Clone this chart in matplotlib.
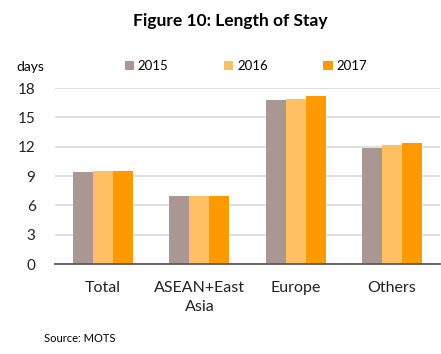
import matplotlib
matplotlib.use("Agg")
import matplotlib.pyplot as plt
import numpy as np

categories = ["Total", "ASEAN+East\nAsia", "Europe", "Others"]
years = ["2015", "2016", "2017"]
v2015 = [9.4, 7.0, 16.8, 11.9]
v2016 = [9.55, 7.0, 16.9, 12.2]
v2017 = [9.55, 7.0, 17.2, 12.4]
yticks = [0, 3, 6, 9, 12, 15, 18]
colors = ["#AA9793", "#FFC064", "#FF9900"]

plt.rcParams['font.family'] = ['Lato', 'DejaVu Sans']

fig = plt.figure(figsize=(4.41, 3.54), dpi=100)
ax = fig.add_axes([55/441, 1-264/354, 385/441, 176/354])

x = np.arange(len(categories))
w = 0.208
for i, (vals, c, lab) in enumerate(zip([v2015, v2016, v2017], colors, years)):
    ax.bar(x + (i-1)*w, vals, width=w, color=c, label=lab, zorder=3)

ax.set_xlim(-0.5, len(categories)-0.5)
ax.set_ylim(0, 18)
ax.set_yticks(yticks)
ax.set_yticklabels([str(t) for t in yticks], fontsize=11, color="#222222")
ax.set_xticks(x)
ax.set_xticklabels(categories, fontsize=11.5, color="#222222", linespacing=1.45)
ax.tick_params(axis='both', length=0)
ax.tick_params(axis='y', pad=14)
ax.tick_params(axis='x', pad=12)
ax.grid(axis='y', color="#D9D9D9", linewidth=1.2, zorder=0)
for s in ['top', 'right', 'left']:
    ax.spines[s].set_visible(False)
ax.spines['bottom'].set_color("#595959")
ax.spines['bottom'].set_linewidth(1.3)
ax.spines['bottom'].set_zorder(4)

fig.text(230/441, 1-21/354, "Figure 10: Length of Stay", ha='center', va='center',
         fontsize=12.5, fontweight='bold')
fig.text(16/441, 1-67/354, "days", ha='left', va='center', fontsize=10)
fig.text(44/441, 1-339/354, "Source: MOTS", ha='left', va='center', fontsize=8)

leg = ax.legend(loc='center', bbox_to_anchor=(246/441, 1-66/354), bbox_transform=fig.transFigure,
                ncol=3, frameon=False, fontsize=9.5, handlelength=0.7, handleheight=0.7,
                handletextpad=0.3, columnspacing=4.2)

fig.savefig("out.png", dpi=100)
